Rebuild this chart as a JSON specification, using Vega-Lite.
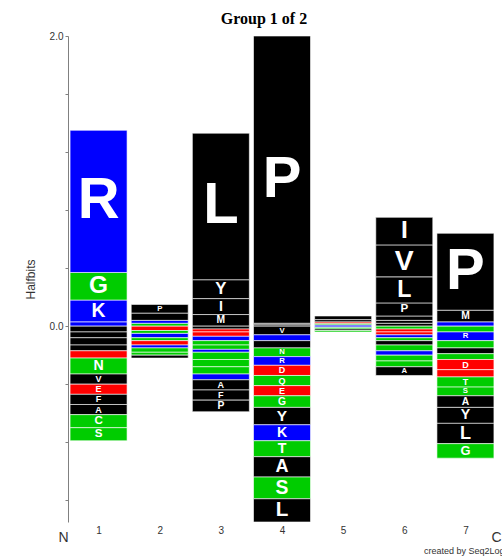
{
  "$schema": "https://vega.github.io/schema/vega-lite/v6.json",
  "width": 428,
  "height": 486,
  "autosize": {"type": "none"},
  "padding": {"left": 68, "top": 36, "right": 6, "bottom": 36},
  "background": "white",
  "config": {"view": {"stroke": null}},
  "title": {"text": "Group 1 of 2", "font": "Liberation Serif", "fontSize": 16, "fontWeight": "bold", "color": "#000000", "frame": "group", "anchor": "middle", "dx": -18, "offset": -9, "baseline": "alphabetic"},
  "data": {"values": [
    {"p":1,"a":"H","h":0.03,"o":1},{"p":1,"a":"K","h":0.15,"o":2},{"p":1,"a":"G","h":0.19,"o":3},{"p":1,"a":"R","h":0.98,"o":4},
    {"p":1,"a":"L","h":-0.04,"o":1},{"p":1,"a":"I","h":-0.04,"o":2},{"p":1,"a":"M","h":-0.05,"o":3},{"p":1,"a":"W","h":-0.04,"o":4},{"p":1,"a":"D","h":-0.05,"o":5},{"p":1,"a":"N","h":-0.11,"o":6},{"p":1,"a":"V","h":-0.07,"o":7},{"p":1,"a":"E","h":-0.07,"o":8},{"p":1,"a":"F","h":-0.07,"o":9},{"p":1,"a":"A","h":-0.07,"o":10},{"p":1,"a":"C","h":-0.09,"o":11},{"p":1,"a":"S","h":-0.09,"o":12},
    {"p":2,"a":"S","h":0.02,"o":1},{"p":2,"a":"K","h":0.02,"o":2},{"p":2,"a":"A","h":0.05,"o":3},{"p":2,"a":"P","h":0.06,"o":4},
    {"p":2,"a":"D","h":-0.03,"o":1},{"p":2,"a":"G","h":-0.02,"o":2},{"p":2,"a":"R","h":-0.03,"o":3},{"p":2,"a":"N","h":-0.02,"o":4},{"p":2,"a":"E","h":-0.03,"o":5},{"p":2,"a":"H","h":-0.02,"o":6},{"p":2,"a":"Q","h":-0.03,"o":7},{"p":2,"a":"C","h":-0.02,"o":8},{"p":2,"a":"L","h":-0.02,"o":9},
    {"p":3,"a":"M","h":0.08,"o":1},{"p":3,"a":"I","h":0.11,"o":2},{"p":3,"a":"Y","h":0.13,"o":3},{"p":3,"a":"L","h":1.01,"o":4},
    {"p":3,"a":"V","h":-0.02,"o":1},{"p":3,"a":"D","h":-0.02,"o":2},{"p":3,"a":"E","h":-0.03,"o":3},{"p":3,"a":"K","h":-0.03,"o":4},{"p":3,"a":"N","h":-0.03,"o":5},{"p":3,"a":"Q","h":-0.03,"o":6},{"p":3,"a":"H","h":-0.02,"o":7},{"p":3,"a":"T","h":-0.05,"o":8},{"p":3,"a":"S","h":-0.05,"o":9},{"p":3,"a":"G","h":-0.05,"o":10},{"p":3,"a":"R","h":-0.04,"o":11},{"p":3,"a":"A","h":-0.07,"o":12},{"p":3,"a":"F","h":-0.07,"o":13},{"p":3,"a":"P","h":-0.08,"o":14},
    {"p":4,"a":"I","h":0.01,"o":1},{"p":4,"a":"W","h":0.01,"o":2},{"p":4,"a":"P","h":1.98,"o":3},
    {"p":4,"a":"V","h":-0.06,"o":1},{"p":4,"a":"H","h":-0.04,"o":2},{"p":4,"a":"M","h":-0.05,"o":3},{"p":4,"a":"N","h":-0.06,"o":4},{"p":4,"a":"R","h":-0.06,"o":5},{"p":4,"a":"D","h":-0.07,"o":6},{"p":4,"a":"Q","h":-0.07,"o":7},{"p":4,"a":"E","h":-0.07,"o":8},{"p":4,"a":"G","h":-0.08,"o":9},{"p":4,"a":"Y","h":-0.12,"o":10},{"p":4,"a":"K","h":-0.11,"o":11},{"p":4,"a":"T","h":-0.11,"o":12},{"p":4,"a":"A","h":-0.14,"o":13},{"p":4,"a":"S","h":-0.15,"o":14},{"p":4,"a":"L","h":-0.16,"o":15},
    {"p":5,"a":"K","h":0.01,"o":1},{"p":5,"a":"S","h":0.01,"o":2},{"p":5,"a":"E","h":0.01,"o":3},{"p":5,"a":"V","h":0.015,"o":4},{"p":5,"a":"L","h":0.025,"o":5},
    {"p":5,"a":"R","h":-0.01,"o":1},{"p":5,"a":"G","h":-0.01,"o":2},{"p":5,"a":"I","h":-0.01,"o":3},{"p":5,"a":"N","h":-0.01,"o":4},
    {"p":6,"a":"W","h":0.02,"o":1},{"p":6,"a":"F","h":0.02,"o":2},{"p":6,"a":"M","h":0.03,"o":3},{"p":6,"a":"P","h":0.09,"o":4},{"p":6,"a":"L","h":0.18,"o":5},{"p":6,"a":"V","h":0.22,"o":6},{"p":6,"a":"I","h":0.19,"o":7},
    {"p":6,"a":"S","h":-0.02,"o":1},{"p":6,"a":"E","h":-0.02,"o":2},{"p":6,"a":"D","h":-0.02,"o":3},{"p":6,"a":"K","h":-0.02,"o":4},{"p":6,"a":"G","h":-0.02,"o":5},{"p":6,"a":"Y","h":-0.03,"o":6},{"p":6,"a":"N","h":-0.04,"o":7},{"p":6,"a":"R","h":-0.03,"o":8},{"p":6,"a":"Q","h":-0.04,"o":9},{"p":6,"a":"T","h":-0.04,"o":10},{"p":6,"a":"A","h":-0.06,"o":11},
    {"p":7,"a":"K","h":0.03,"o":1},{"p":7,"a":"M","h":0.08,"o":2},{"p":7,"a":"P","h":0.53,"o":3},
    {"p":7,"a":"Q","h":-0.04,"o":1},{"p":7,"a":"R","h":-0.06,"o":2},{"p":7,"a":"N","h":-0.05,"o":3},{"p":7,"a":"V","h":-0.04,"o":4},{"p":7,"a":"C","h":-0.04,"o":5},{"p":7,"a":"D","h":-0.07,"o":6},{"p":7,"a":"E","h":-0.05,"o":7},{"p":7,"a":"T","h":-0.07,"o":8},{"p":7,"a":"S","h":-0.06,"o":9},{"p":7,"a":"A","h":-0.08,"o":10},{"p":7,"a":"Y","h":-0.11,"o":11},{"p":7,"a":"L","h":-0.14,"o":12},{"p":7,"a":"G","h":-0.10,"o":13}
  ]},
  "transform": [
    {"stack": "h", "groupby": ["p"], "sort": [{"field": "o", "order": "ascending"}], "as": ["y0", "y1"], "offset": "zero"}
  ],
  "layer": [
    {
      "mark": {"type": "bar", "width": 57, "stroke": "white", "strokeWidth": 0.6},
      "encoding": {
        "x": {"field": "p", "type": "quantitative", "scale": {"domain": [0.5, 7.5], "nice": false, "zero": false, "padding": 0},
          "axis": {
            "values": [0.5, 1, 2, 3, 4, 5, 6, 7, 7.5],
            "labelExpr": "datum.value == 0.5 ? 'N' : datum.value == 7.5 ? 'C' : '' + datum.value",
            "domain": false, "ticks": false, "grid": false,
            "labelFont": "Liberation Sans",
            "labelFontSize": {"condition": {"test": "datum.value == 0.5 || datum.value == 7.5", "value": 14}, "value": 10},
            "labelPadding": {"condition": {"test": "datum.value == 0.5 || datum.value == 7.5", "value": 8}, "value": 3},
            "labelAlign": {"condition": {"test": "datum.value == 0.5", "value": "right"}, "value": "center"},
            "labelColor": "#333333",
            "labelOverlap": false, "labelBound": false, "labelFlush": false,
            "title": "created by Seq2Logo",
            "titleFont": "Liberation Sans", "titleFontSize": 9, "titleFontWeight": "normal", "titleColor": "#333333",
            "titleAlign": "right", "titleAnchor": "end", "titleX": 441, "titleY": 24, "titleBaseline": "top"
          }},
        "y": {"field": "y0", "type": "quantitative", "scale": {"domain": [-1.35, 2.0], "nice": false, "zero": false},
          "axis": {
            "values": [-1.2, -1, -0.8, -0.6, -0.4, -0.2, 0, 0.2, 0.4, 0.6, 0.8, 1, 1.2, 1.4, 1.6, 1.8, 2],
            "labelExpr": "datum.value == 2 ? '2.0' : datum.value == 1 ? '1.0' : datum.value == 0 ? '0.0' : datum.value == -1 ? '-1.0' : ''",
            "title": "Halfbits", "grid": false,
            "domainColor": "#808080", "tickColor": "#808080", "tickSize": 3,
            "labelFont": "Liberation Sans", "labelFontSize": 10, "labelColor": "#333333", "labelPadding": 2,
            "labelOverlap": false,
            "titleFont": "Liberation Sans", "titleFontSize": 12, "titleFontWeight": "normal", "titleColor": "#333333", "titlePadding": 12
          }},
        "y2": {"field": "y1"},
        "color": {"field": "a", "type": "nominal",
          "scale": {
            "domain": ["A","C","D","E","F","G","H","I","K","L","M","N","P","Q","R","S","T","V","W","Y"],
            "range": ["#000000","#00CC00","#FF0000","#FF0000","#000000","#00CC00","#0000FF","#000000","#0000FF","#000000","#000000","#00CC00","#000000","#00CC00","#0000FF","#00CC00","#00CC00","#000000","#000000","#000000"]
          },
          "legend": null}
      }
    },
    {
      "transform": [
        {"filter": "abs(datum.h) >= 0.06"},
        {"calculate": "(datum.y0 + datum.y1) / 2", "as": "mid"},
        {"calculate": "abs(datum.h)", "as": "ah"}
      ],
      "mark": {"type": "text", "font": "Liberation Sans", "fontWeight": "bold", "color": "white", "baseline": "middle", "align": "center"},
      "encoding": {
        "x": {"field": "p", "type": "quantitative"},
        "y": {"field": "mid", "type": "quantitative"},
        "text": {"field": "a"},
        "size": {"field": "ah", "type": "quantitative", "scale": {"domain": [0, 0.45], "range": [0, 58], "clamp": true}, "legend": null}
      }
    }
  ]
}
